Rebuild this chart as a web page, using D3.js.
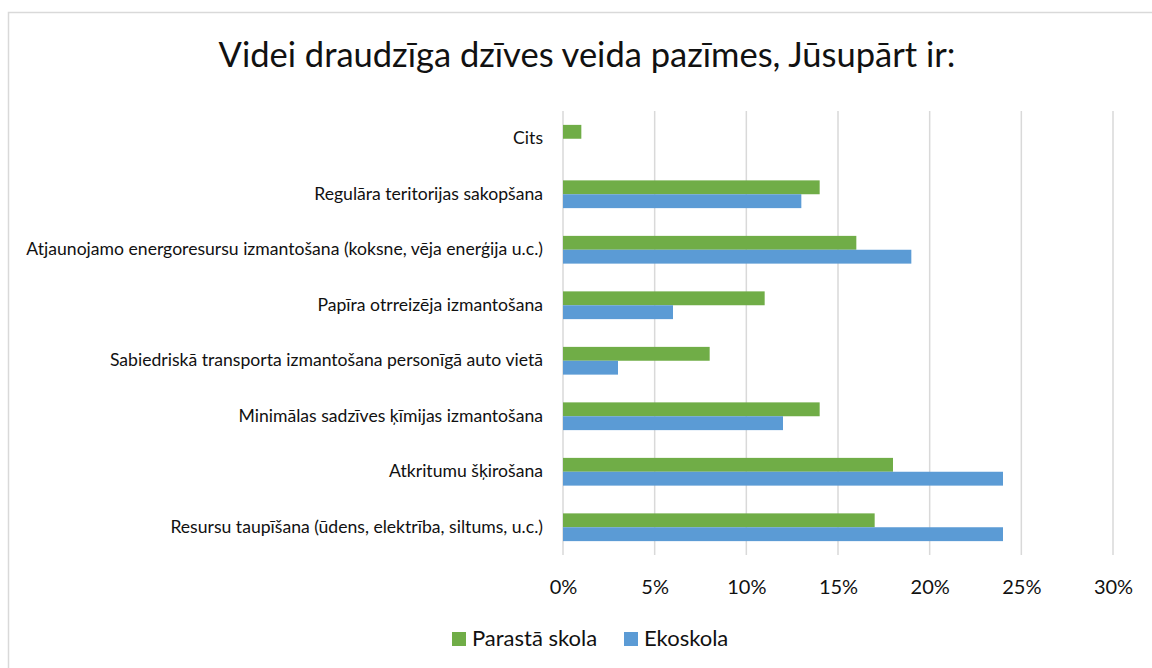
<!DOCTYPE html>
<html>
<head>
<meta charset="utf-8">
<script src="https://cdn.jsdelivr.net/npm/d3@7"></script>
<style>
  body { margin: 0; background: #fff; }
  svg { display: block; font-family: Lato, "Open Sans", sans-serif; }
</style>
</head>
<body>
<svg></svg>
<script>
const categories = [
    'Cits',
    'Regulāra teritorijas sakopšana',
    'Atjaunojamo energoresursu izmantošana (koksne, vēja enerģija u.c.)',
    'Papīra otrreizēja izmantošana',
    'Sabiedriskā transporta izmantošana personīgā auto vietā',
    'Minimālas sadzīves ķīmijas izmantošana',
    'Atkritumu šķirošana',
    'Resursu taupīšana (ūdens, elektrība, siltums, u.c.)'
]
const parastaSkola = [1, 14, 16, 11, 8, 14, 18, 17]
const ekoskola = [0, 13, 19, 6, 3, 12, 24, 24]
const seriesNames = ['Parastā skola', 'Ekoskola']
const seriesColors = ['#70ad47', '#5b9bd5']
const xTicks = [0, 5, 10, 15, 20, 25, 30]

const W = 1152, H = 668
const svg = d3.select('svg').attr('width', W).attr('height', H)

// chart frame
svg.append('rect')
    .attr('x', 8.5).attr('y', 12.5)
    .attr('width', W + 20).attr('height', H + 20)
    .attr('fill', 'none')
    .attr('stroke', '#d9d9d9')
    .attr('stroke-width', 1.5)

svg.append('text')
    .attr('x', 587).attr('y', 67)
    .attr('text-anchor', 'middle')
    .attr('font-size', 34.5)
    .attr('fill', '#111')
    .text('Videi draudzīga dzīves veida pazīmes, Jūsupārt ir:')

const x = d3.scaleLinear().domain([0, 30]).range([563, 1113])
const y = d3.scaleBand().domain(categories).range([111, 555])
    .paddingInner(0.5).paddingOuter(0.25)
const sub = d3.scaleBand().domain(seriesNames).range([0, y.bandwidth()])

// gridlines
svg.append('g')
    .selectAll('line')
    .data(xTicks)
    .enter()
    .append('line')
    .attr('x1', d => x(d)).attr('x2', d => x(d))
    .attr('y1', 111).attr('y2', 555)
    .attr('stroke', '#d9d9d9')
    .attr('stroke-width', 1.5)

// x axis labels
const xAxis = d3.axisBottom(x).tickValues(xTicks).tickFormat(d => d + '%').tickSize(0).tickPadding(0)
const gx = svg.append('g').attr('transform', 'translate(0,594)').call(xAxis)
gx.select('.domain').remove()
gx.selectAll('text')
    .attr('font-family', 'Lato, sans-serif')
    .attr('font-size', 20)
    .attr('fill', '#111')
    .attr('dy', 0)

// category labels
const yAxis = d3.axisLeft(y).tickSize(0).tickPadding(0)
const gy = svg.append('g').attr('transform', 'translate(543,0)').call(yAxis)
gy.select('.domain').remove()
gy.selectAll('text')
    .attr('font-family', 'Lato, sans-serif')
    .attr('font-size', 17.6)
    .attr('fill', '#111')

const rows = categories.map((c, i) => ({ cat: c, vals: [parastaSkola[i], ekoskola[i]] }))

const groups = svg.append('g')
    .selectAll('g')
    .data(rows)
    .enter()
    .append('g')
    .attr('transform', d => `translate(0,${y(d.cat)})`)

groups.selectAll('rect')
    .data(d => d.vals.map((v, j) => ({ name: seriesNames[j], v, j })))
    .enter()
    .filter(d => d.v > 0)
    .append('rect')
    .attr('x', x(0))
    .attr('y', d => sub(d.name))
    .attr('width', d => x(d.v) - x(0))
    .attr('height', sub.bandwidth())
    .attr('fill', d => seriesColors[d.j])

// legend
const legendX = [452, 624]
const legend = svg.append('g')
    .selectAll('g')
    .data(seriesNames)
    .enter()
    .append('g')
    .attr('transform', (d, i) => `translate(${legendX[i]},632)`)
legend.append('rect')
    .attr('width', 14).attr('height', 14)
    .attr('fill', (d, i) => seriesColors[i])
legend.append('text')
    .attr('x', 20).attr('y', 14)
    .attr('font-size', 22)
    .attr('fill', '#111')
    .text(d => d)
</script>
</body>
</html>
